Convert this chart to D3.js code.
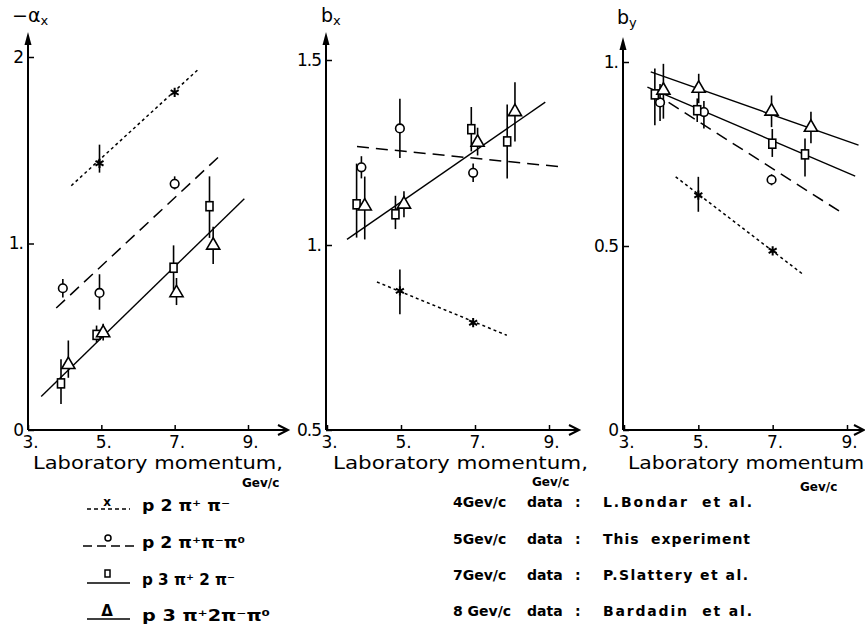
<!DOCTYPE html>
<html>
<head>
<meta charset="utf-8">
<script src="https://cdn.jsdelivr.net/npm/d3@7"></script>
<style>
  body { margin: 0; background: #fff; }
  text { font-family: "DejaVu Sans", sans-serif; fill: #000; }
</style>
</head>
<body>
<svg id="chart" width="865" height="626"></svg>
<script>
"use strict";

// tick values / labels
const xTicks = [3, 5, 7, 9];
const xTickLabels = ["3.", "5.", "7.", "9."];
const axTicks = [0, 1, 2], axTickLabels = ["0", "1.", "2"];
const bxTicks = [0.5, 1, 1.5], bxTickLabels = ["0.5", "1.", "1.5"];
const byTicks = [0, 0.5, 1], byTickLabels = ["0", "0.5", "1."];

// points: [momentum, value, errDown, errUp]
// -a_x
const ax_p2pipi    = [[4.95, 1.43, 0.05, 0.10], [7.0, 1.81, 0, 0]];
const ax_p2pipipi0 = [[3.95, 0.76, 0.05, 0.05], [4.95, 0.735, 0.09, 0.10], [7.0, 1.32, 0.03, 0.04]];
const ax_p3pi2pi   = [[3.9, 0.25, 0.11, 0.13], [4.87, 0.51, 0.04, 0.05], [6.97, 0.87, 0.12, 0.12], [7.95, 1.2, 0.17, 0.16]];
const ax_p3pi2pipi0 = [[4.1, 0.35, 0.07, 0.13], [5.05, 0.52, 0.04, 0.05], [7.05, 0.735, 0.065, 0.08], [8.05, 0.99, 0.1, 0.1]];
const ax_fitDotted = [[4.18, 1.31], [7.68, 1.94]];
const ax_fitDashed = [[3.77, 0.654], [8.23, 1.47]];
const ax_fitSolid  = [[3.36, 0.18], [8.9, 1.24]];

// b_x
const bx_p2pipi    = [[4.97, 0.876, 0.063, 0.058], [6.95, 0.79, 0, 0]];
const bx_p2pipipi0 = [[3.93, 1.21, 0.03, 0.03], [4.97, 1.315, 0.08, 0.08], [6.95, 1.195, 0.025, 0.025]];
const bx_p3pi2pi   = [[3.8, 1.11, 0.09, 0.11], [4.85, 1.083, 0.04, 0.05], [6.9, 1.313, 0.06, 0.06], [7.87, 1.28, 0.1, 0.1]];
const bx_p3pi2pipi0 = [[4.02, 1.105, 0.09, 0.08], [5.08, 1.11, 0.035, 0.035], [7.07, 1.277, 0.035, 0.04], [8.08, 1.36, 0.08, 0.08]];
const bx_fitDotted = [[4.35, 0.90], [7.86, 0.756]];
const bx_fitDashed = [[3.81, 1.266], [9.35, 1.211]];
const bx_fitSolid  = [[3.54, 1.015], [8.9, 1.386]];

// b_y
const by_p2pipi    = [[5.0, 0.638, 0.045, 0.05], [7.0, 0.487, 0, 0]];
const by_p2pipipi0 = [[3.97, 0.89, 0.05, 0.05], [5.15, 0.864, 0.045, 0.03], [6.97, 0.68, 0.015, 0.015]];
const by_p3pi2pi   = [[3.83, 0.912, 0.084, 0.07], [4.97, 0.869, 0.032, 0.032], [6.99, 0.778, 0.036, 0.04], [7.87, 0.749, 0.06, 0.043]];
const by_p3pi2pipi0 = [[4.06, 0.923, 0.077, 0.072], [5.01, 0.928, 0.04, 0.04], [6.97, 0.866, 0.043, 0.043], [8.03, 0.822, 0.043, 0.043]];
const by_fitDotted = [[4.39, 0.688], [7.79, 0.425]];
const by_fitDashed = [[4.2, 0.89], [8.82, 0.593]];
const by_fitSolidTri = [[3.72, 0.973], [9.31, 0.774]];
const by_fitSolidSq  = [[3.63, 0.932], [9.22, 0.69]];

// legends
const reactionLabels = ["p 2 π⁺ π⁻", "p 2 π⁺π⁻π⁰", "p 3 π⁺ 2 π⁻", "p 3 π⁺2π⁻π⁰"];
const energyLabels = ["4Gev/c", "5Gev/c", "7Gev/c", "8 Gev/c"];
const refLabels = ["L.Bondar  et al.", "This  experiment", "P.Slattery et al.", "Bardadin  et al."];

const DOTTED = "3,3", DASHED = "12,7";

const svg = d3.select("#chart");

const panels = [
  { xr: [28, 248], yd: [0, 2], yr: [430, 57], axisX: 28, xEnd: 288, yTop: 32,
    ticks: axTicks, tickLabels: axTickLabels, title: "−α", sub: "x", titleX: 12, titleY: 22,
    series: [["x", ax_p2pipi], ["o", ax_p2pipipi0], ["sq", ax_p3pi2pi], ["tri", ax_p3pi2pipi0]],
    fits: [[ax_fitDotted, DOTTED], [ax_fitDashed, DASHED], [ax_fitSolid, null]],
    label: "Laboratory momentum,", labelX: 33, labelW: 250, gevX: 242, gevY: 487 },
  { xr: [327, 549], yd: [0.5, 1.5], yr: [430, 60], axisX: 326, xEnd: 579, yTop: 32,
    ticks: bxTicks, tickLabels: bxTickLabels, title: "b", sub: "x", titleX: 321, titleY: 22,
    series: [["x", bx_p2pipi], ["o", bx_p2pipipi0], ["sq", bx_p3pi2pi], ["tri", bx_p3pi2pipi0]],
    fits: [[bx_fitDotted, DOTTED], [bx_fitDashed, DASHED], [bx_fitSolid, null]],
    label: "Laboratory momentum,", labelX: 333, labelW: 255, gevX: 532, gevY: 486 },
  { xr: [624, 847], yd: [0, 1], yr: [430, 62], axisX: 623, xEnd: 864, yTop: 37,
    ticks: byTicks, tickLabels: byTickLabels, title: "b", sub: "y", titleX: 617, titleY: 24,
    series: [["x", by_p2pipi], ["o", by_p2pipipi0], ["sq", by_p3pi2pi], ["tri", by_p3pi2pipi0]],
    fits: [[by_fitDotted, DOTTED], [by_fitDashed, DASHED], [by_fitSolidTri, null], [by_fitSolidSq, null]],
    label: "Laboratory momentum", labelX: 628, labelW: 236, gevX: 800, gevY: 491 }
];

function drawMark(g, type, cx, cy) {
  if (type === "x") {
    g.append("path")
      .attr("d", d3.symbol(d3.symbolAsterisk, 60)())
      .attr("transform", `translate(${cx},${cy})`)
      .attr("stroke", "#000").attr("stroke-width", 2).attr("fill", "none");
  } else if (type === "o") {
    g.append("circle").attr("cx", cx).attr("cy", cy).attr("r", 4.3)
      .attr("fill", "#fff").attr("stroke", "#000").attr("stroke-width", 1.6);
  } else if (type === "sq") {
    g.append("rect").attr("x", cx - 3.5).attr("y", cy - 4.5).attr("width", 7).attr("height", 9)
      .attr("fill", "#fff").attr("stroke", "#000").attr("stroke-width", 1.6);
  } else {
    g.append("path")
      .attr("d", d3.symbol(d3.symbolTriangle, 75)())
      .attr("transform", `translate(${cx},${cy})`)
      .attr("fill", "#fff").attr("stroke", "#000").attr("stroke-width", 1.6);
  }
}

panels.forEach(p => {
  const x = d3.scaleLinear().domain([3, 9]).range(p.xr);
  const y = d3.scaleLinear().domain(p.yd).range(p.yr);
  const g = svg.append("g");
  const yBase = p.yr[0];

  // axes with ticks pointing inside
  g.append("g").attr("transform", `translate(0,${yBase})`)
    .call(d3.axisBottom(x).tickValues(xTicks).tickFormat((d, i) => xTickLabels[i])
      .tickSize(-5).tickPadding(6))
    .call(a => a.select(".domain").remove())
    .call(a => a.selectAll("line").attr("stroke-width", 1.5))
    .call(a => a.selectAll("text").attr("font-size", 17).attr("dx", 2)
      .style("font-family", "'DejaVu Sans', sans-serif"));

  g.append("g").attr("transform", `translate(${p.axisX},0)`)
    .call(d3.axisLeft(y).tickValues(p.ticks).tickFormat((d, i) => p.tickLabels[i])
      .tickSize(-6).tickPadding(5))
    .call(a => a.select(".domain").remove())
    .call(a => a.selectAll("line").attr("stroke-width", 1.5))
    .call(a => a.selectAll("text").attr("font-size", 17).attr("letter-spacing", -1)
      .style("font-family", "'DejaVu Sans', sans-serif"));

  // axis lines with arrowheads
  g.append("line").attr("x1", p.axisX).attr("x2", p.xEnd - 1).attr("y1", yBase).attr("y2", yBase)
    .attr("stroke", "#000").attr("stroke-width", 2);
  g.append("path").attr("d", `M${p.xEnd - 10},${yBase - 5}L${p.xEnd},${yBase}L${p.xEnd - 10},${yBase + 5}`)
    .attr("fill", "none").attr("stroke", "#000").attr("stroke-width", 2);
  g.append("line").attr("x1", p.axisX).attr("x2", p.axisX).attr("y1", yBase).attr("y2", p.yTop + 4)
    .attr("stroke", "#000").attr("stroke-width", 2);
  g.append("path").attr("d", `M${p.axisX - 3.5},${p.yTop + 13}L${p.axisX},${p.yTop}L${p.axisX + 3.5},${p.yTop + 13}Z`)
    .attr("fill", "#000");

  // panel title
  const t = g.append("text").attr("x", p.titleX).attr("y", p.titleY).attr("font-size", 19);
  t.append("tspan").text(p.title);
  t.append("tspan").attr("font-size", 13).attr("dy", 3).text(p.sub);

  // fitted lines
  const line = d3.line().x(d => x(d[0])).y(d => y(d[1]));
  p.fits.forEach(([pts, dash]) => {
    g.append("path").attr("d", line(pts)).attr("fill", "none")
      .attr("stroke", "#000").attr("stroke-width", dash ? 1.5 : 1.4)
      .attr("stroke-dasharray", dash);
  });

  // error bars then markers
  p.series.forEach(([type, pts]) => {
    pts.forEach(d => {
      if (d[2] + d[3] > 0) {
        g.append("line").attr("x1", x(d[0])).attr("x2", x(d[0]))
          .attr("y1", y(d[1] - d[2])).attr("y2", y(d[1] + d[3]))
          .attr("stroke", "#000").attr("stroke-width", 1.6);
      }
    });
  });
  p.series.forEach(([type, pts]) => {
    pts.forEach(d => drawMark(g, type, x(d[0]), y(d[1])));
  });

  // x label
  g.append("text").attr("x", p.labelX).attr("y", 469).attr("font-size", 18)
    .attr("textLength", p.labelW).attr("lengthAdjust", "spacingAndGlyphs").text(p.label);
  g.append("text").attr("x", p.gevX).attr("y", p.gevY).attr("font-size", 12)
    .attr("font-weight", "bold").text("Gev/c");
});

// left legend: reaction channels
const legY = [509, 546, 583, 619];
const legW = [88, 103, 93, 128];
const legStyles = [["x", "4,3"], ["o", "9,5"], ["sq", null], ["tri", null]];
const leg = svg.append("g");
legY.forEach((ly, i) => {
  const [type, dash] = legStyles[i];
  leg.append("line").attr("x1", i === 1 ? 83 : 87).attr("x2", i === 1 ? 135 : 130)
    .attr("y1", ly).attr("y2", ly).attr("stroke", "#000").attr("stroke-width", 1.5)
    .attr("stroke-dasharray", dash);
  if (type === "x") {
    leg.append("text").attr("x", 107).attr("y", ly - 3).attr("text-anchor", "middle")
      .attr("font-size", 12).attr("font-weight", "bold").text("x");
  } else if (type === "o") {
    leg.append("circle").attr("cx", 108).attr("cy", ly - 8).attr("r", 3)
      .attr("fill", "none").attr("stroke", "#000").attr("stroke-width", 1.5);
  } else if (type === "sq") {
    leg.append("rect").attr("x", 105).attr("y", ly - 13).attr("width", 5).attr("height", 7)
      .attr("fill", "none").attr("stroke", "#000").attr("stroke-width", 1.5);
  } else {
    leg.append("text").attr("x", 107).attr("y", ly - 3).attr("text-anchor", "middle")
      .attr("font-size", 15).attr("font-weight", "bold").text("Δ");
  }
  leg.append("text").attr("x", 142).attr("y", ly + 2).attr("font-size", 16)
    .attr("font-weight", "bold").attr("textLength", legW[i])
    .attr("lengthAdjust", "spacingAndGlyphs").text(reactionLabels[i]);
});

// right legend: data sources
const srcY = [507, 544, 580, 616];
const refW = [149, 147, 145, 149];
srcY.forEach((sy, i) => {
  leg.append("text").attr("x", 453).attr("y", sy).attr("font-size", 14)
    .attr("font-weight", "bold").style("white-space", "pre").text(energyLabels[i]);
  leg.append("text").attr("x", 527).attr("y", sy).attr("font-size", 14)
    .attr("font-weight", "bold").text("data");
  leg.append("text").attr("x", 575).attr("y", sy).attr("font-size", 14)
    .attr("font-weight", "bold").text(":");
  leg.append("text").attr("x", 603).attr("y", sy).attr("font-size", 14)
    .attr("font-weight", "bold").style("white-space", "pre")
    .attr("textLength", refW[i]).attr("lengthAdjust", "spacing").text(refLabels[i]);
});
</script>
</body>
</html>
